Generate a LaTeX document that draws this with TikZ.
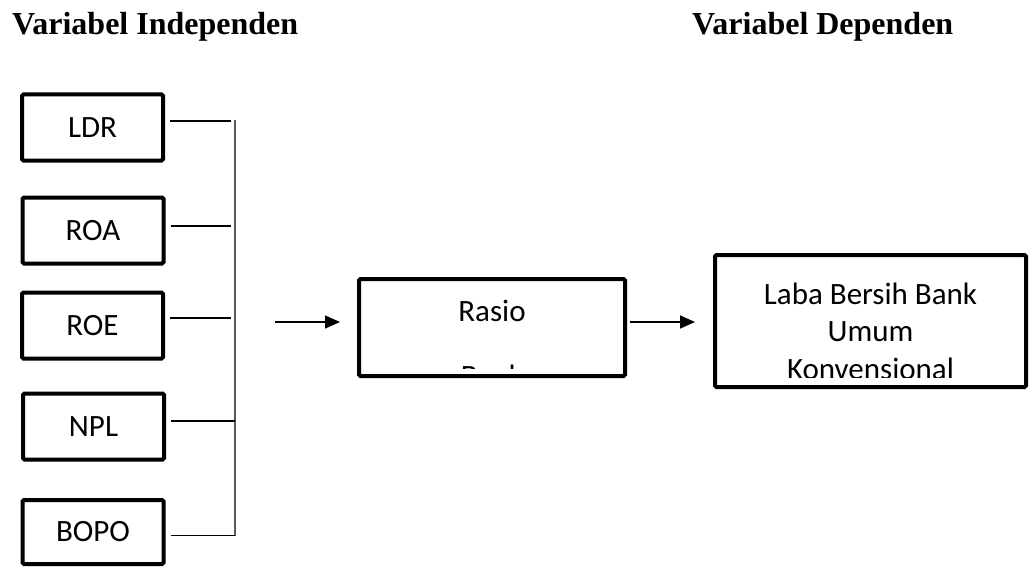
\documentclass[tikz,border=0pt]{standalone}
\usepackage{fontspec}
\setmainfont{Liberation Serif}
\newfontfamily\calibri{Carlito}
\usetikzlibrary{arrows.meta,calc}

\tikzset{
  varbox/.style={draw, line width=4pt, rounded corners=1.5pt, inner sep=0pt,
    font=\calibri\fontsize{31}{37}\selectfont},
  smallbox/.style={varbox, minimum width=141pt, minimum height=66pt},
  link/.style={line width=1.1pt},
  busline/.style={line width=1.3pt, draw=black!65},
  arr/.style={line width=1.6pt, -{Triangle[length=15pt,width=13pt]}},
  title/.style={font=\bfseries\fontsize{32}{38}\selectfont, anchor=base west, inner sep=0pt},
  boxtext/.style={font=\calibri\fontsize{31}{37}\selectfont, anchor=base, inner sep=0pt}
}

\begin{document}
\begin{tikzpicture}[x=1pt, y=-1pt]
\useasboundingbox (0,0) rectangle (1030,567);

% headings
\node[title] (thead1) at (12,35) {Variabel Independen};
\node[title] (thead2) at (692,35) {Variabel Dependen};

% independent variables
\node[smallbox] (ldr)  at (92.5,127.5) {LDR};
\node[smallbox] (roa)  at (93,230.5)   {ROA};
\node[smallbox] (roe)  at (92.5,325.5) {ROE};
\node[smallbox] (npl)  at (93.5,426.5) {NPL};
\node[smallbox, minimum height=64pt] (bopo) at (93,532) {BOPO};

% collecting bus
\coordinate (bustop) at (235,120);
\coordinate (busbot) at (235,535.5);
\draw[busline] (bustop) -- (busbot);
\foreach \n/\dy/\e in {ldr/-6.5/4, roa/-4.5/4, roe/-7.5/4, npl/-5.5/0, bopo/3.5/0}{
  \coordinate (s-\n) at ($(\n.east)+(5,\dy)$);
  \draw[link, shorten >=\e pt] (s-\n) -- (s-\n -| bustop);
}

% intermediate and dependent boxes (frames)
\node[varbox, minimum width=266pt, minimum height=97pt] (rasio) at (492,327.5) {};
\node[varbox, minimum width=311pt, minimum height=132pt] (laba) at (870.5,321) {};

% box texts, cut off at the inner text area
\begin{scope}
  \clip (rasio.north west) rectangle (627,368);
  \node[boxtext] (trasio1) at (492,321) {Rasio};
  \node[boxtext] (trasio2) at (492,386) {Bank};
\end{scope}
\begin{scope}
  \clip (laba.north west) rectangle (1028,377);
  \node[boxtext] (tlaba1) at (870.5,304) {Laba Bersih Bank};
  \node[boxtext] (tlaba2) at (870.5,341) {Umum};
  \node[boxtext] (tlaba3) at (870.5,379) {Konvensional};
\end{scope}

% arrows
\coordinate (in1) at (275,322);
\draw[arr, shorten >=17pt] (in1) -- (in1 -| rasio.west);
\draw[arr, shorten <=3pt, shorten >=18pt] (rasio.east |- in1) -- (laba.west |- in1);
\end{tikzpicture}
\end{document}
